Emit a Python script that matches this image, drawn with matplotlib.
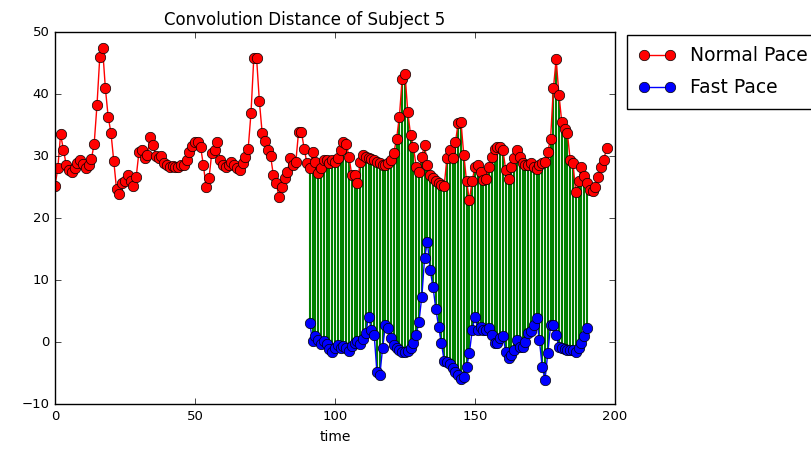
import matplotlib
matplotlib.use("Agg")
import matplotlib.pyplot as plt
import numpy as np

plt.style.use('classic')

# normal pace: one value per time step, starting at t=0
normal = [25.2, 28.0, 33.5, 31.0, 28.6, 27.8, 27.5, 28.0, 28.8, 29.4,
          28.7, 28.0, 28.6, 29.5, 32.0, 38.2, 46.0, 47.4, 40.9, 36.3,
          33.7, 29.2, 24.6, 23.9, 25.6, 26.0, 26.9, 26.0, 25.2, 26.6,
          30.7, 31.0, 29.6, 30.2, 33.1, 31.8, 30.0, 29.6, 30.0, 28.8,
          28.5, 28.3, 28.4, 28.3, 28.3, 28.5, 28.6, 29.4, 30.7, 31.6,
          32.3, 32.3, 31.5, 28.5, 25.0, 26.4, 30.5, 31.0, 32.3, 29.4,
          28.5, 28.3, 28.6, 29.0, 28.5, 28.0, 27.7, 28.8, 29.8, 31.2,
          36.9, 45.8, 45.8, 38.8, 33.7, 32.5, 31.0, 30.0, 26.9, 25.6,
          23.4, 25.0, 26.4, 27.5, 29.6, 28.5, 29.0, 33.9, 33.9, 31.2,
          28.8, 28.0, 30.7, 29.1, 27.2, 28.0, 29.3, 29.3, 28.8, 29.3,
          29.0, 29.7, 31.0, 32.2, 32.0, 29.9, 26.9, 26.9, 25.6, 29.0,
          30.2, 29.9, 29.7, 29.5, 29.3, 29.0, 28.8, 28.5, 28.5, 28.8,
          29.4, 30.5, 32.8, 36.3, 42.5, 43.3, 37.1, 33.4, 31.5, 28.3,
          27.4, 29.9, 31.8, 28.5, 27.0, 26.5, 26.0, 25.6, 25.3, 25.2,
          29.7, 31.0, 29.7, 32.2, 35.3, 35.5, 30.2, 25.9, 22.9, 26.0,
          28.3, 28.5, 27.5, 26.1, 26.3, 28.3, 29.8, 31.2, 31.4, 31.4,
          30.9, 27.7, 26.3, 28.2, 29.6, 30.9, 29.9, 28.8, 28.5, 28.5,
          28.8, 28.2, 27.9, 28.6, 28.8, 29.0, 30.7, 32.8, 40.9, 45.6,
          39.8, 35.5, 34.4, 33.7, 29.4, 28.8, 24.2, 25.9, 28.3, 26.7,
          25.6, 24.5, 24.3, 25.0, 26.6, 28.3, 29.4, 31.3]

# fast pace starts at t=91
fast_start = 91
fast = [3.0, 0.1, 0.9, 0.3, -0.3, 0.2, -0.4, -1.2, -1.6, -0.9,
        -0.5, -1.0, -0.7, -0.9, -1.4, -0.6, -0.2, 0.2, -0.3, 0.5,
        1.4, 4.1, 2.0, 1.1, -4.9, -5.4, -1.0, 2.7, 2.2, 0.6,
        -0.5, -1.0, -1.3, -1.6, -1.6, -1.4, -1.0, -0.2, 1.1, 3.3,
        7.3, 13.5, 16.2, 11.6, 8.9, 5.4, 2.5, -0.2, -3.0, -3.2,
        -3.5, -4.2, -4.8, -5.3, -5.9, -5.6, -4.0, -1.8, 1.9, 4.1,
        2.0, 2.4, 2.0, 1.9, 2.2, 1.1, -0.2, -0.2, 0.6, 0.9,
        -1.6, -2.6, -2.1, -1.3, 0.3, -0.8, -0.8, 0.05, 1.4, 1.7,
        2.7, 3.8, 0.3, -4.0, -6.1, -1.8, 2.7, 2.7, 1.1, -0.8,
        -1.0, -1.2, -1.3, -1.3, -1.3, -1.6, -1.0, -0.2, 0.9, 2.2]

t_normal = np.arange(len(normal))
t_fast = np.arange(fast_start, fast_start + len(fast))
normal_at_fast = np.array(normal)[t_fast]

fig = plt.figure(figsize=(8.11, 4.49), dpi=100, facecolor='white')
ax = fig.add_axes([0.0678, 0.1002, 0.6905, 0.8285])

ax.vlines(t_fast, fast, normal_at_fast, colors='g', linewidth=1.5, zorder=1)
ax.plot(t_normal, normal, 'ro-', markersize=7.5, linewidth=1.0, label='Normal Pace', zorder=2)
ax.plot(t_fast, fast, 'bo-', markersize=7.5, linewidth=1.0, label='Fast Pace', zorder=3)

ax.set_xlim(0, 200)
ax.set_ylim(-10, 50)
ax.set_xticks(np.arange(0, 201, 50))
ax.set_yticks(np.arange(-10, 51, 10))
ax.tick_params(labelsize=9.5)
ax.set_title('Convolution Distance of Subject 5', fontsize=12, x=0.445)
ax.set_xlabel('time', fontsize=10)

ax.legend(loc='upper left', bbox_to_anchor=(1.021, 0.992), fontsize=13.5,
          borderaxespad=0, labelspacing=0.7, borderpad=0.6)

fig.savefig('out.png', dpi=100, facecolor='white')
